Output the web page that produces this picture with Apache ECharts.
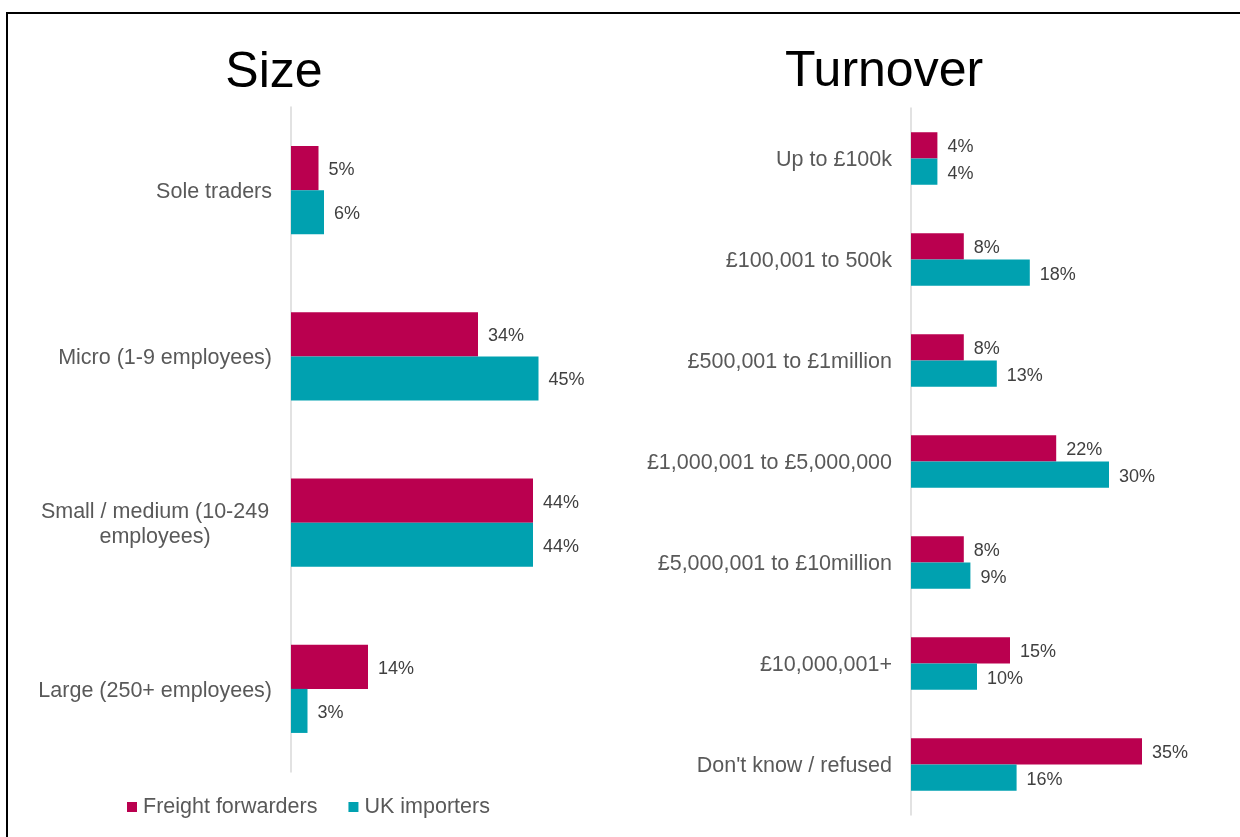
<!DOCTYPE html>
<html>
<head>
<meta charset="utf-8">
<script src="https://cdn.jsdelivr.net/npm/echarts@6/dist/echarts.min.js"></script>
<style>
    html, body { margin: 0; padding: 0; background: #fff; }
    #main { width: 1240px; height: 837px; }
</style>
</head>
<body>
<div id="main"></div>
<script>
// data
const sizeCategories = ['Sole traders', 'Micro (1-9 employees)', 'Small / medium (10-249 employees)', 'Large (250+ employees)']
const sizeForwarders = [5, 34, 44, 14]
const sizeImporters = [6, 45, 44, 3]

const turnoverCategories = ['Up to £100k', '£100,001 to 500k', '£500,001 to £1million', '£1,000,001 to £5,000,000',
    '£5,000,001 to £10million', '£10,000,001+', "Don't know / refused"]
const turnoverForwarders = [4, 8, 8, 22, 8, 15, 35]
const turnoverImporters = [4, 18, 13, 30, 9, 10, 16]

const seriesNames = ['Freight forwarders', 'UK importers']
const COLORS = ['#BA004F', '#00A1B0']
const FONT = 'Liberation Sans, Arial, sans-serif'

const chart = echarts.init(document.getElementById('main'))

const catAxis = (gridIndex, data) => ({
    type: 'category',
    gridIndex,
    data,
    inverse: true,
    axisTick: { show: false },
    axisLine: { lineStyle: { color: '#D9D9D9', width: 1.5 } },
    axisLabel: {
        margin: 19,
        color: '#595959',
        fontSize: 21.5,
        fontFamily: FONT,
        padding: [4, 0, 0, 0],
        formatter: (v) => {
            if (v.indexOf('Small / medium') === 0) {
                return '{c|Small / medium (10-249}\n{c|employees)}'
            }
            return v
        },
        rich: { c: { width: 234, align: 'center', color: '#595959', fontSize: 21.5, fontFamily: FONT, lineHeight: 25 } }
    }
})

const valAxis = (gridIndex, max) => ({
    type: 'value',
    gridIndex,
    min: 0,
    max,
    show: false
})

const barSeries = (name, data, idx, axisIdx) => ({
    name,
    type: 'bar',
    data,
    xAxisIndex: axisIdx,
    yAxisIndex: axisIdx,
    barGap: '0%',
    barCategoryGap: axisIdx === 0 ? '47%' : '48%',
    itemStyle: { color: COLORS[idx] },
    label: {
        show: true,
        position: 'right',
        distance: 10,
        offset: [0, 2],
        formatter: '{c}%',
        color: '#404040',
        fontSize: 18,
        fontFamily: FONT
    }
})

const option = {
    backgroundColor: '#fff',
    animation: false,
    title: [
        { text: 'Size', left: 269, top: 43, textAlign: 'center',
          textStyle: { fontSize: 50, fontWeight: 'normal', color: '#000', fontFamily: FONT } },
        { text: 'Turnover', left: 879, top: 42, textAlign: 'center',
          textStyle: { fontSize: 50, fontWeight: 'normal', color: '#000', fontFamily: FONT } }
    ],
    legend: {
        data: seriesNames,
        left: 122,
        top: 791,
        itemWidth: 10,
        itemHeight: 10,
        itemGap: 31,
        icon: 'rect',
        textStyle: { color: '#595959', fontSize: 21.5, fontFamily: FONT, padding: [0, 0, 0, 1] }
    },
    grid: [
        { left: 291, top: 107, width: 275, bottom: 65 },
        { left: 911, top: 108, width: 297, bottom: 22 }
    ],
    xAxis: [valAxis(0, 50), valAxis(1, 45)],
    yAxis: [catAxis(0, sizeCategories), catAxis(1, turnoverCategories)],
    series: [
        barSeries(seriesNames[0], sizeForwarders, 0, 0),
        barSeries(seriesNames[1], sizeImporters, 1, 0),
        barSeries(seriesNames[0], turnoverForwarders, 0, 1),
        barSeries(seriesNames[1], turnoverImporters, 1, 1)
    ],
    graphic: [{
        type: 'rect',
        shape: { x: 7, y: 13, width: 1260, height: 860 },
        style: { fill: 'none', stroke: '#000', lineWidth: 2 },
        silent: true
    }]
}

chart.setOption(option)
</script>
</body>
</html>
